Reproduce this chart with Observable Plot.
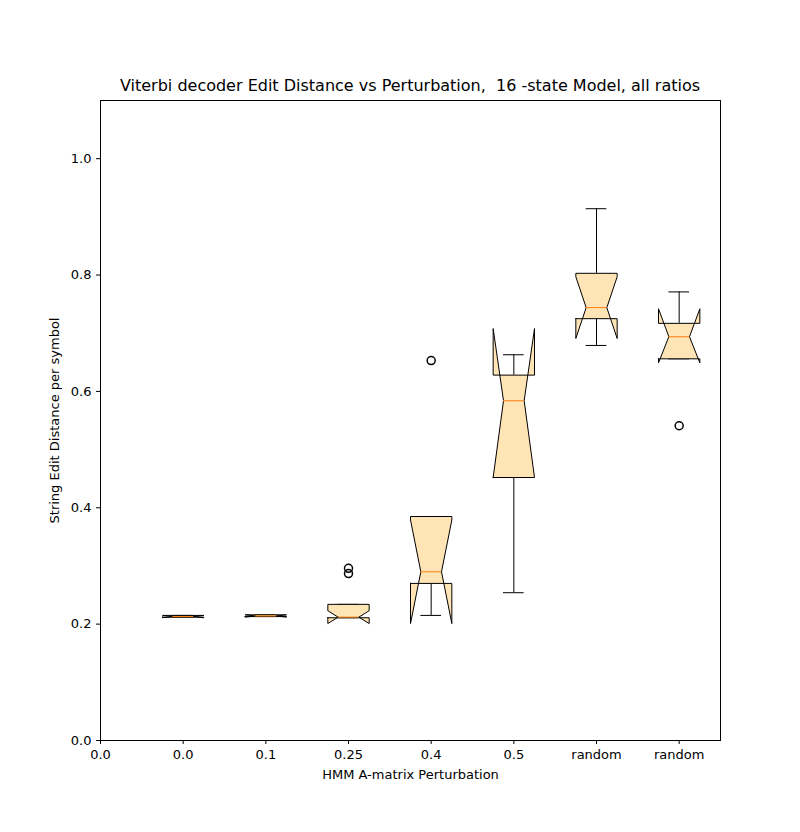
<!DOCTYPE html>
<html>
<head>
<meta charset="utf-8">
<script src="https://cdn.jsdelivr.net/npm/d3@7"></script>
<script src="https://cdn.jsdelivr.net/npm/@observablehq/plot@0.6"></script>
<style>
  body { margin: 0; background: #fff; font-family: "DejaVu Sans", sans-serif; }
  #wrap { position: relative; width: 800px; height: 832px; }
  #title { position: absolute; top: 76px; left: 100px; width: 620px; text-align: center; font-size: 16px; white-space: pre; }
</style>
</head>
<body>
<div id="wrap">
  <div id="title">Viterbi decoder Edit Distance vs Perturbation,  16 -state Model, all ratios</div>
  <div id="grafico"></div>
</div>
<script>
// valores
const positions = [1, 2, 3, 4, 5, 6, 7];
const tickLabels = ["0.0", "0.0", "0.1", "0.25", "0.4", "0.5", "random", "random"];
const q1 =      [0.212, 0.213, 0.211, 0.270, 0.452, 0.725, 0.656];
const median =  [0.213, 0.214, 0.212, 0.290, 0.584, 0.744, 0.694];
const q3 =      [0.215, 0.216, 0.234, 0.385, 0.628, 0.803, 0.717];
const notchLo = [0.211, 0.212, 0.201, 0.201, 0.452, 0.691, 0.649];
const notchHi = [0.215, 0.216, 0.223, 0.379, 0.708, 0.797, 0.742];
const whiskLo = [0.212, 0.213, 0.211, 0.215, 0.254, 0.679, 0.656];
const whiskHi = [0.215, 0.216, 0.234, 0.385, 0.663, 0.914, 0.771];
const outX = [3, 3, 4, 7];
const outY = [0.296, 0.287, 0.653, 0.541];

const w = 0.25; // media anchura de caja
let poly = [], medians = [], whiskers = [], caps = [];
positions.forEach((p, i) => {
  const pts = [
    [p - w, q1[i]], [p - w, notchLo[i]], [p - w / 2, median[i]], [p - w, notchHi[i]], [p - w, q3[i]],
    [p + w, q3[i]], [p + w, notchHi[i]], [p + w / 2, median[i]], [p + w, notchLo[i]], [p + w, q1[i]], [p - w, q1[i]]
  ];
  pts.forEach(([x, y]) => poly.push({ box: i, x, y }));
  medians.push({ x1: p - w / 2, x2: p + w / 2, y: median[i] });
  whiskers.push({ x: p, y1: whiskLo[i], y2: q1[i] }, { x: p, y1: q3[i], y2: whiskHi[i] });
  caps.push({ x1: p - w / 2, x2: p + w / 2, y: whiskLo[i] }, { x1: p - w / 2, x2: p + w / 2, y: whiskHi[i] });
});
const outliers = outX.map((x, i) => ({ x, y: outY[i] }));

let chart = Plot.plot({
  width: 800,
  height: 832,
  marginLeft: 100, marginRight: 80, marginTop: 100, marginBottom: 92,
  style: { fontFamily: "DejaVu Sans, sans-serif", fontSize: "13px", color: "#000" },
  x: { domain: [0, 7.5] },
  y: { domain: [0, 1.1] },
  marks: [
    Plot.frame({ stroke: "#000" }),
    Plot.ruleX(whiskers, { x: "x", y1: "y1", y2: "y2", stroke: "#000" }),
    Plot.ruleY(caps, { y: "y", x1: "x1", x2: "x2", stroke: "#000" }),
    Plot.line(poly, { x: "x", y: "y", z: "box", fill: "#ffe4b5", stroke: "#000", strokeWidth: 1, curve: "linear-closed" }),
    Plot.ruleY(medians, { y: "y", x1: "x1", x2: "x2", stroke: "#ff7f0e" }),
    Plot.dot(outliers, { x: "x", y: "y", r: 4, stroke: "#000", fill: "none" }),
    Plot.axisX({ ticks: [0, 1, 2, 3, 4, 5, 6, 7], tickFormat: d => tickLabels[d], tickSize: 4, label: "HMM A-matrix Perturbation", labelAnchor: "center", labelArrow: "none", labelOffset: 38 }),
    Plot.axisY({ ticks: [0, 0.2, 0.4, 0.6, 0.8, 1.0], tickFormat: d3.format(".1f"), tickSize: 4, label: "String Edit Distance per symbol", labelAnchor: "center", labelArrow: "none", labelOffset: 51 })
  ]
});
d3.select('#grafico').append(() => chart);
</script>
</body>
</html>
